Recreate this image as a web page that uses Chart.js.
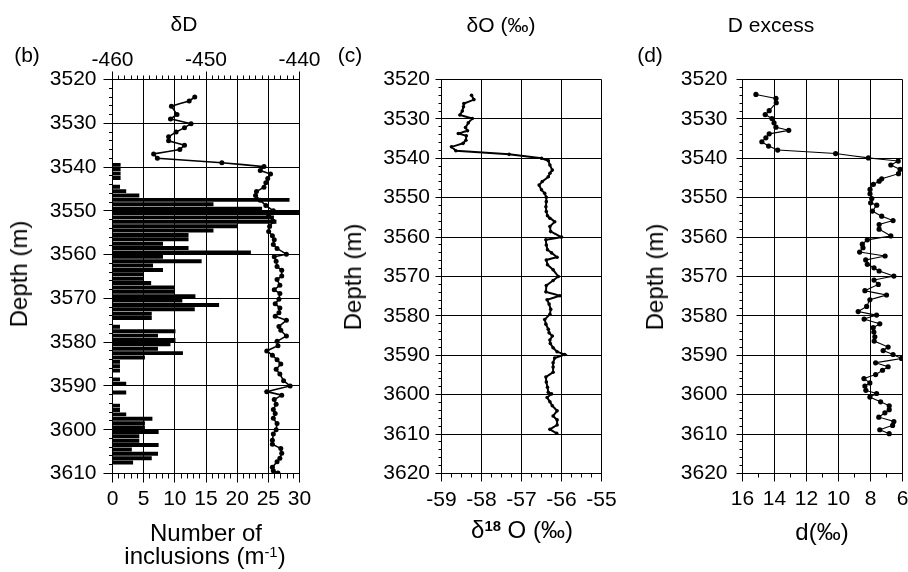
<!DOCTYPE html>
<html>
<head>
<meta charset="utf-8">
<script src="https://cdn.jsdelivr.net/npm/chart.js@4.4.0/dist/chart.umd.min.js"></script>
<style>
  body { margin: 0; background: #fff; }
  #wrap { position: relative; width: 908px; height: 572px; overflow: hidden; background: #fff;
          font-family: "Liberation Sans", Arial, Helvetica, sans-serif; color: #000; }
  canvas { position: absolute; top: 0; }
  .lbl { position: absolute; white-space: nowrap; line-height: 1; transform: translateX(-50%); }
  .t21 { font-size: 21px; }
  .t24 { font-size: 24px; }
  .rot { position: absolute; white-space: nowrap; line-height: 1; font-size: 24px;
         transform: translate(-50%, -50%) rotate(-90deg); }
  .sup { position: relative; font-size: 0.62em; }
</style>
</head>
<body>
<div id="wrap">
  <canvas id="chartB" width="320" height="572" style="left:0"></canvas>
  <canvas id="chartC" width="300" height="572" style="left:320px"></canvas>
  <canvas id="chartD" width="288" height="572" style="left:620px"></canvas>

  <div class="lbl t21" style="left:184px; top:13px">δD</div>
  <div class="lbl t21" style="left:501px; top:14px">δO (‰)</div>
  <div class="lbl t21" style="left:771px; top:14px">D excess</div>

  <div class="lbl t21" style="left:27px; top:44px">(b)</div>
  <div class="lbl t21" style="left:350px; top:44px">(c)</div>
  <div class="lbl t21" style="left:650px; top:44px">(d)</div>

  <div class="rot" style="left:19px; top:274px">Depth (m)</div>
  <div class="rot" style="left:353px; top:277px">Depth (m)</div>
  <div class="rot" style="left:655px; top:277px">Depth (m)</div>

  <div class="lbl t24" style="left:206px; top:521px">Number of</div>
  <div class="lbl t24" style="left:205px; top:544px">inclusions (m<span class="sup" style="top:-0.5em">-1</span>)</div>
  <div class="lbl t24" style="left:522px; top:518px">δ<span class="sup" style="top:-0.45em; font-weight:bold">18</span> O (‰)</div>
  <div class="lbl t24" style="left:822px; top:520px">d(‰)</div>
</div>

<script>
// inclusion counts per 1 m bin (bin centres, m)
const binDepth = [3539.5,3540.5,3541.5,3542.5,3543.5,3544.5,3545.5,3546.5,3547.5,3548.5,
  3549.5,3550.5,3551.5,3552.5,3553.5,3554.5,3555.5,3556.5,3557.5,3558.5,
  3559.5,3560.5,3561.5,3562.5,3563.5,3564.5,3565.5,3566.5,3567.5,3568.5,
  3569.5,3570.5,3571.5,3572.5,3573.5,3574.5,3575.5,3576.5,3577.5,3578.5,
  3579.5,3580.5,3581.5,3582.5,3583.5,3584.5,3585.5,3586.5,3587.5,3588.5,
  3589.5,3590.5,3591.5,3592.5,3593.5,3594.5,3595.5,3596.5,3597.5,3598.5,
  3599.5,3600.5,3601.5,3602.5,3603.5,3604.5,3605.5,3606.5,3607.5];
const binCount = [1.3,1.3,1.3,1.3,0,1.2,2.2,4.3,28.4,16.2,
  24.0,30,25.9,26.3,20.1,16.2,12.2,12.2,8.1,12.2,
  22.2,8.1,14.3,6.5,8.1,4.9,4.9,6.2,10.0,10.0,
  13.3,11.2,17.1,13.2,6.3,6.3,0,1.2,10.1,7.3,
  10.1,9.3,7.3,11.3,5.2,1.2,1.2,1.2,0,1.2,
  2.2,0,2.2,0,0,1.2,1.2,2.2,6.4,5.2,
  5.2,7.4,4.3,4.3,7.4,3.1,7.3,6.3,3.3];

// deltaD profile
const depthD = [3524.0,3524.9,3526.1,3528.0,3529.0,3530.1,3531.0,3532.0,3533.1,3534.0,
  3535.0,3536.0,3537.0,3538.0,3539.0,3539.9,3540.8,3541.6,3542.6,3543.6,
  3544.6,3545.6,3546.5,3547.6,3548.8,3550.0,3551.2,3552.4,3553.6,3554.7,
  3555.7,3556.6,3557.7,3558.6,3559.9,3560.5,3561.5,3562.7,3563.6,3564.9,
  3565.7,3567.0,3568.0,3568.9,3570.2,3571.2,3572.2,3573.3,3574.1,3575.0,
  3576.4,3577.3,3578.6,3579.8,3580.8,3582.0,3583.0,3584.0,3585.0,3586.2,
  3587.3,3588.8,3590.0,3591.3,3592.1,3593.1,3594.2,3595.4,3596.3,3597.4,
  3598.6,3600.0,3601.0,3602.4,3603.3,3604.3,3605.4,3606.5,3607.3,3608.6,
  3609.4,3609.9];
const deltaD = [-451.2,-451.8,-453.7,-453.1,-453.8,-451.6,-452.3,-453.2,-454.0,-454.0,
  -452.3,-452.8,-455.6,-455.2,-448.3,-443.8,-444.2,-443.1,-443.4,-443.6,
  -443.8,-444.6,-444.7,-444.2,-443.6,-442.8,-443.3,-442.8,-443.2,-443.3,
  -442.9,-442.7,-442.8,-442.4,-441.4,-442.7,-442.5,-442.4,-441.9,-441.9,
  -442.4,-442.1,-442.7,-442.1,-442.2,-442.6,-442.1,-442.2,-442.6,-441.4,
  -442.2,-442.0,-441.4,-442.4,-442.3,-443.5,-442.9,-442.4,-442.0,-442.5,
  -442.1,-441.7,-441.0,-443.5,-441.9,-442.7,-442.5,-442.8,-442.6,-442.8,
  -442.4,-442.5,-442.8,-442.9,-442.9,-442.0,-441.9,-442.1,-442.4,-442.9,
  -442.8,-442.3];

// delta18O profile
const depthO = [3524.0,3525.1,3526.1,3526.9,3528.0,3529.0,3529.9,3531.0,3532.2,3533.0,
  3533.7,3534.3,3535.4,3536.2,3537.1,3538.1,3539.0,3540.0,3540.6,3541.7,
  3543.0,3543.8,3544.7,3545.9,3546.8,3548.0,3548.9,3549.9,3551.0,3552.3,
  3553.5,3554.6,3555.2,3556.1,3557.3,3558.6,3560.0,3560.7,3562.0,3563.2,
  3564.0,3565.1,3565.8,3567.0,3568.3,3570.0,3571.0,3572.3,3573.9,3574.9,
  3575.9,3577.0,3578.3,3579.6,3580.9,3582.1,3583.4,3584.3,3585.1,3586.1,
  3587.0,3588.1,3589.1,3589.8,3590.7,3591.9,3593.0,3594.3,3595.5,3596.8,
  3598.1,3599.4,3599.8,3600.7,3601.8,3602.8,3604.1,3605.4,3606.4,3607.7,
  3608.8,3609.8];
const d18O = [-58.25,-58.19,-58.44,-58.45,-58.48,-58.54,-58.23,-58.33,-58.40,-58.35,
  -58.58,-58.38,-58.39,-58.46,-58.75,-58.64,-57.31,-56.50,-56.33,-56.29,
  -56.23,-56.29,-56.33,-56.48,-56.56,-56.50,-56.42,-56.38,-56.38,-56.39,
  -56.38,-56.35,-56.29,-56.17,-56.29,-56.27,-56.00,-56.39,-56.38,-56.35,
  -56.25,-56.11,-56.38,-56.35,-56.21,-56.08,-56.21,-56.38,-56.39,-56.04,
  -56.36,-56.31,-56.27,-56.29,-56.42,-56.39,-56.33,-56.31,-56.23,-56.29,
  -56.28,-56.21,-56.11,-55.92,-56.17,-56.21,-56.21,-56.21,-56.39,-56.38,
  -56.35,-56.33,-56.25,-56.36,-56.29,-56.23,-56.11,-56.21,-56.11,-56.11,
  -56.29,-56.12];

// deuterium excess profile
const depthX = [3523.8,3524.8,3525.9,3527.9,3528.9,3529.9,3531.0,3532.1,3532.9,3533.8,
  3534.8,3535.8,3536.9,3537.9,3538.8,3539.9,3540.7,3541.7,3542.8,3543.9,
  3545.2,3545.8,3546.6,3547.9,3549.0,3550.2,3551.3,3551.9,3553.4,3554.7,
  3555.8,3556.8,3558.0,3559.7,3560.7,3561.8,3562.7,3563.8,3564.8,3565.8,
  3566.9,3567.8,3568.6,3569.9,3570.9,3572.0,3573.6,3574.7,3575.9,3577.6,
  3578.9,3579.8,3580.8,3582.0,3583.0,3584.1,3585.3,3586.4,3587.9,3588.8,
  3589.8,3590.8,3591.9,3592.9,3593.8,3594.9,3595.9,3597.0,3597.8,3598.9,
  3599.7,3600.6,3601.8,3602.8,3603.8,3604.6,3605.7,3606.8,3607.8,3608.9,
  3609.9];
const dex = [15.16,13.91,13.89,14.33,14.58,14.16,14.03,13.91,13.11,14.33,
  14.54,14.79,14.37,13.80,10.18,8.13,6.27,6.73,6.15,6.25,
  7.30,7.46,7.82,8.03,8.03,7.92,7.99,7.61,7.88,7.30,
  6.59,7.46,7.46,6.73,8.20,8.51,8.47,8.68,7.09,8.30,
  8.20,7.78,7.46,6.54,7.78,7.51,8.35,7.00,8.04,8.24,
  8.77,7.62,8.40,7.42,7.83,7.79,7.73,7.77,6.90,7.21,
  6.59,6.06,7.68,6.90,7.25,7.68,8.41,8.04,8.35,8.29,
  7.62,8.04,7.37,6.83,6.83,7.10,7.48,6.54,6.62,7.42,
  6.83];

Chart.defaults.font.family = '"Liberation Sans", Arial, Helvetica, sans-serif';
Chart.defaults.color = '#000';

const tickFont = { size: 21, lineHeight: 1 };

function zeroPad(s) {
  s.paddingLeft = 0; s.paddingRight = 0; s.paddingTop = 0; s.paddingBottom = 0;
}

function pts(ys, xs) {
  return ys.map((y, i) => ({ x: xs[i], y: y }));
}

// short unlabelled ticks between the major ones
function minorTicks(list) {
  return {
    id: 'minorTicks',
    afterDraw(chart) {
      const ctx = chart.ctx, a = chart.chartArea;
      ctx.save();
      ctx.strokeStyle = '#000';
      ctx.lineWidth = 1;
      ctx.beginPath();
      list.forEach(m => {
        const s = chart.scales[m.scale];
        for (let v = s.min; v <= s.max + 1e-9; v += m.step) {
          const p = Math.round(s.getPixelForValue(v) - 0.5) + 0.5;
          if (m.side === 'left') { ctx.moveTo(a.left, p); ctx.lineTo(a.left - m.len, p); }
          if (m.side === 'bottom') { ctx.moveTo(p, a.bottom); ctx.lineTo(p, a.bottom + m.len); }
          if (m.side === 'top') { ctx.moveTo(p, a.top); ctx.lineTo(p, a.top - m.len); }
        }
      });
      ctx.stroke();
      ctx.restore();
    }
  };
}

function depthAxis(max, width, tickLen, pad) {
  return {
    type: 'linear', position: 'left', reverse: true, min: 3520, max: max, offset: false,
    ticks: { stepSize: 10, padding: pad, font: tickFont, color: '#000', autoSkip: false, callback: v => String(v) },
    grid: { color: '#000', lineWidth: 1, tickLength: tickLen, tickColor: '#000', offset: false },
    border: { color: '#000', width: 1 },
    afterFit: s => { s.width = width; zeroPad(s); }
  };
}

function valueAxis(min, max, step, reverse, tickLen, pad, height) {
  return {
    type: 'linear', position: 'bottom', min: min, max: max, reverse: reverse, offset: false,
    ticks: { stepSize: step, padding: pad, font: tickFont, color: '#000', autoSkip: false, maxRotation: 0, callback: v => String(v) },
    grid: { color: '#000', lineWidth: 1, tickLength: tickLen, tickColor: '#000', offset: false },
    border: { color: '#000', width: 1 },
    afterFit: s => { s.height = height; zeroPad(s); }
  };
}

const common = {
  responsive: false,
  animation: false,
  events: [],
  plugins: { legend: { display: false }, tooltip: { enabled: false } }
};

// (b) inclusions + deltaD
new Chart(document.getElementById('chartB'), {
  type: 'bar',
  data: {
    datasets: [
      {
        type: 'line', label: 'δD', order: 0, indexAxis: 'y',
        data: pts(depthD, deltaD), xAxisID: 'x2', yAxisID: 'y',
        borderColor: '#000', borderWidth: 1.6, tension: 0.00001,
        pointRadius: 2.5, pointBackgroundColor: '#000', pointBorderWidth: 0
      },
      {
        type: 'bar', label: 'inclusions', order: 1, indexAxis: 'y',
        data: pts(binDepth, binCount), xAxisID: 'x', yAxisID: 'y',
        backgroundColor: '#000', borderWidth: 0,
        barPercentage: 0.9, categoryPercentage: 1
      }
    ]
  },
  options: Object.assign({}, common, {
    indexAxis: 'y',
    layout: { padding: { left: 0, right: 20.5, top: 0, bottom: 0 }, autoPadding: false },
    scales: {
      y: depthAxis(3610, 112.5, 9, 7),
      x: valueAxis(0, 30, 5, false, 9, 6, 98.5),
      x2: {
        type: 'linear', position: 'top', min: -460, max: -440, offset: false,
        ticks: { stepSize: 10, padding: 1, font: tickFont, color: '#000', autoSkip: false, maxRotation: 0, callback: v => String(v) },
        grid: { drawOnChartArea: false, tickLength: 8, tickColor: '#000', offset: false },
        border: { color: '#000', width: 1 },
        afterFit: s => { s.height = 79.5; zeroPad(s); }
      }
    }
  }),
  plugins: [minorTicks([
    { scale: 'y', step: 2, len: 3.5, side: 'left' },
    { scale: 'x', step: 1, len: 5, side: 'bottom' },
    { scale: 'x', step: 1, len: 4, side: 'top' }
  ])]
});

// (c) delta18O
new Chart(document.getElementById('chartC'), {
  type: 'line',
  data: {
    datasets: [{
      label: 'δ18O', indexAxis: 'y',
      data: pts(depthO, d18O),
      borderColor: '#000', borderWidth: 2, tension: 0.00001,
      pointRadius: 1.8, pointBackgroundColor: '#000', pointBorderWidth: 0
    }]
  },
  options: Object.assign({}, common, {
    layout: { padding: { left: 0, right: 18.5, top: 79.5, bottom: 0 }, autoPadding: false },
    scales: {
      y: depthAxis(3620, 121.5, 6, 5.5),
      x: valueAxis(-59, -55, 1, false, 8, 8.5, 98.5)
    }
  }),
  plugins: [minorTicks([
    { scale: 'y', step: 2, len: 3, side: 'left' },
    { scale: 'x', step: 0.25, len: 4, side: 'bottom' }
  ])]
});

// (d) deuterium excess
new Chart(document.getElementById('chartD'), {
  type: 'line',
  data: {
    datasets: [{
      label: 'd', indexAxis: 'y',
      data: pts(depthX, dex),
      borderColor: '#000', borderWidth: 1.1, tension: 0.00001,
      pointRadius: 2.6, pointBackgroundColor: '#000', pointBorderWidth: 0
    }]
  },
  options: Object.assign({}, common, {
    layout: { padding: { left: 0, right: 5.5, top: 79.5, bottom: 0 }, autoPadding: false },
    scales: {
      y: depthAxis(3620, 122.5, 6, 9),
      x: valueAxis(6, 16, 2, true, 8, 7, 98.5)
    }
  }),
  plugins: [minorTicks([
    { scale: 'y', step: 2, len: 3, side: 'left' },
    { scale: 'x', step: 1, len: 4, side: 'bottom' }
  ])]
});
</script>
</body>
</html>
